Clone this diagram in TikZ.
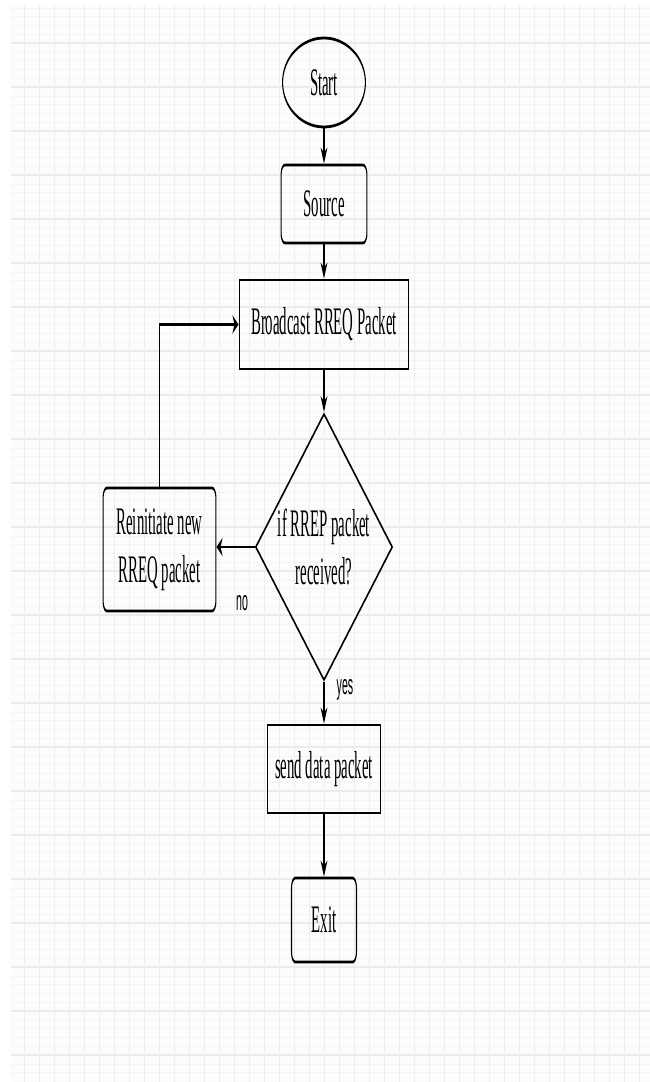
\documentclass[tikz,border=0pt]{standalone}
\usepackage{fontspec}
\setmainfont{Liberation Serif}
\newfontfamily\labelfont{Liberation Sans}
\usetikzlibrary{shapes.geometric,arrows.meta}
\tikzset{
  base/.style={draw=black, line width=2.8pt, inner sep=0pt, align=center,
    font=\fontsize{39}{48}\selectfont},
  startbox/.style={base, ellipse, minimum width=218pt, minimum height=89pt},
  roundbox/.style={base, rectangle, rounded corners=10pt},
  plainbox/.style={base, rectangle},
  decision/.style={base, diamond, aspect=1.35, minimum width=360pt, minimum height=267pt},
  conn/.style={draw=black, line width=2.8pt, -{Stealth[length=16pt,width=18pt]}},
  edgelabel/.style={font=\labelfont\fontsize{28}{30}\selectfont, inner sep=0pt},
  gridminor/.style={draw=gray!9, line width=0.6pt},
  gridmajor/.style={draw=gray!16, line width=1.4pt},
  gridvert/.style={draw=gray!13, line width=0.7pt}
}
\begin{document}
\begin{tikzpicture}[x=1pt,y=-1pt]
\useasboundingbox (0,0) rectangle (650,1082);
\fill[gray!2] (11,5) rectangle (650,1082);
\foreach \y in {7.8,16.6,...,1080} \draw[gridminor] (11,\y) -- (650,\y);
\foreach \y in {43,87,...,1080} \draw[gridmajor] (11,\y) -- (650,\y);
\foreach \x in {24,39,...,650} \draw[gridvert] (\x,5) -- (\x,1082);
\begin{scope}[transform canvas={xscale=0.38}, x=2.631579pt]
  \node[startbox] (start) at (324,82.5) {Start};
  \node[roundbox, minimum width=226pt, minimum height=78pt] (source) at (324,204) {Source};
  \node[plainbox, minimum width=447pt, minimum height=89pt] (bcast) at (324,324.5) {Broadcast RREQ Packet};
  \node[decision] (dec) at (324,547) {if RREP packet\\received?};
  \node[roundbox, minimum width=297pt, minimum height=123pt] (reinit) at (159.5,549.5) {Reinitiate new\\RREQ packet};
  \node[plainbox, minimum width=295pt, minimum height=88pt] (send) at (324,769) {send data packet};
  \node[roundbox, minimum width=171pt, minimum height=84pt] (exit) at (324,920) {Exit};

  \draw[conn] (start) -- (source);
  \draw[conn] (source) -- (bcast);
  \draw[conn] (bcast) -- (dec);
  \draw[conn] (dec.west) -- (dec.west -| reinit.east);
  \draw[conn] (reinit.north) |- (bcast.west);
  \draw[conn] (dec) -- (send);
  \draw[conn] (send) -- (exit);

  \node[edgelabel] (nolabel) at (242,603) {no};
  \node[edgelabel] (yeslabel) at (345,690) {yes};
\end{scope}
\end{tikzpicture}
\end{document}
